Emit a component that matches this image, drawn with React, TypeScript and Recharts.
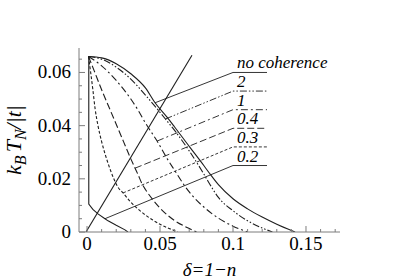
import { LineChart, Line, XAxis, YAxis, ReferenceDot } from "recharts";

// axis ranges and ticks
const X_DOMAIN: [number, number] = [-0.0055, 0.1733];
const Y_DOMAIN: [number, number] = [0, 0.0692];
const X_TICKS = [0, 0.01, 0.02, 0.03, 0.04, 0.05, 0.06, 0.07, 0.08, 0.09, 0.1, 0.11, 0.12, 0.13, 0.14, 0.15, 0.16, 0.17];
const X_MAJOR = [0, 0.05, 0.1, 0.15];
const Y_TICKS = [0, 0.005, 0.01, 0.015, 0.02, 0.025, 0.03, 0.035, 0.04, 0.045, 0.05, 0.055, 0.06, 0.065];
const Y_MAJOR = [0, 0.02, 0.04, 0.06];

// curves: [delta, kB*TN/|t|]
const NO_COHERENCE = [
  [0.001, 0.066], [0.01, 0.0655], [0.02, 0.0633], [0.03, 0.0595], [0.04, 0.0542],
  [0.0466, 0.0486], [0.0548, 0.0432], [0.06, 0.0395], [0.07, 0.0322], [0.08, 0.025],
  [0.084, 0.022], [0.09, 0.0178], [0.1, 0.0125], [0.11, 0.0087], [0.12, 0.0056],
  [0.13, 0.0029], [0.1425, 0],
];
const COH_2 = [
  [0.001, 0.066], [0.01, 0.065], [0.02, 0.062], [0.03, 0.0575], [0.04, 0.0515],
  [0.0537, 0.0425], [0.06, 0.0382], [0.07, 0.0305], [0.08, 0.0218], [0.083, 0.019],
  [0.09, 0.013], [0.1, 0.008], [0.11, 0.0042], [0.12, 0.0015], [0.127, 0],
];
const COH_1 = [
  [0.001, 0.066], [0.01, 0.0625], [0.02, 0.057], [0.03, 0.05], [0.035, 0.0458],
  [0.04, 0.041], [0.048, 0.0342], [0.055, 0.0275], [0.06, 0.0232], [0.068, 0.0165],
  [0.075, 0.012], [0.08, 0.0094], [0.09, 0.0052], [0.1, 0.0022], [0.11, 0],
];
const COH_04 = [
  [0.001, 0.066], [0.005, 0.0605], [0.01, 0.0535], [0.015, 0.047], [0.02, 0.0405],
  [0.025, 0.034], [0.03, 0.0275], [0.0329, 0.024], [0.035, 0.0215], [0.038, 0.0178],
  [0.04, 0.016], [0.045, 0.0122], [0.05, 0.009], [0.055, 0.0064], [0.06, 0.0043],
  [0.067, 0.0021], [0.072, 0.0008], [0.075, 0],
];
const COH_03 = [
  [0.001, 0.066], [0.0025, 0.06], [0.004, 0.0535], [0.0055, 0.0465], [0.0075, 0.04],
  [0.01, 0.034], [0.014, 0.0265], [0.018, 0.0205], [0.021, 0.017], [0.0247, 0.0147],
  [0.03, 0.0112], [0.035, 0.0086], [0.04, 0.0064], [0.045, 0.0045], [0.05, 0.0029],
  [0.055, 0.0016], [0.06, 0.0005], [0.062, 0],
];
const COH_02 = [
  [0.0012, 0.066], [0.0012, 0.0105], [0.004, 0.0085], [0.0075, 0.0068], [0.0123, 0.005],
  [0.0144, 0.0042], [0.02, 0.0025], [0.026, 0.0008], [0.028, 0],
];
const STRAIGHT = [[-0.0007, 0], [0.0719, 0.0665]];

// label column: text, label height, where the leader touches its curve
const LABEL_X = [0.1, 0.1233];
const LABELS = ["no coherence", "2", "1", "0.4", "0.3", "0.2"];
const LABEL_Y = [0.06, 0.053, 0.046, 0.039, 0.032, 0.025];
const LEADER_FROM = [[0.0466, 0.0486], [0.0537, 0.0425], [0.048, 0.0342], [0.0329, 0.024], [0.0247, 0.0147], [0.0123, 0.005]];

const CURVES = [NO_COHERENCE, COH_2, COH_1, COH_04, COH_03, COH_02];
const DASHES = [undefined, "7 2 1.5 2 1.5 2", "7 3 2 3", "7 3", "3 2", undefined];

const AXIS = "#7d7d7d";
const INK = "#1e1e1e";
const FONT = "Liberation Serif";

const pts = (arr: number[][]) => arr.map(([x, y]) => ({ x, y }));

function XTick(props: any) {
  const { x, y, payload } = props;
  const major = X_MAJOR.includes(payload.value);
  return (
    <g>
      <line x1={x} x2={x} y1={y} y2={y - (major ? 6 : 3)} stroke={AXIS} />
      {major && (
        <text x={x} y={y + 18} textAnchor="middle" fill="#000" fontFamily={FONT} fontSize={19}>
          {payload.value}
        </text>
      )}
    </g>
  );
}

function TopTick(props: any) {
  const { x, y, payload } = props;
  const major = X_MAJOR.includes(payload.value);
  return <line x1={x} x2={x} y1={y} y2={y + (major ? 6 : 3)} stroke={AXIS} />;
}

function YTick(props: any) {
  const { x, y, payload } = props;
  const major = Y_MAJOR.includes(payload.value);
  return (
    <g>
      <line x1={x} x2={x + (major ? 6 : 3)} y1={y} y2={y} stroke={AXIS} />
      {major && (
        <text x={x - 8} y={y + 6} textAnchor="end" fill="#000" fontFamily={FONT} fontSize={19}>
          {payload.value}
        </text>
      )}
    </g>
  );
}

function RightTick(props: any) {
  const { x, y, payload } = props;
  const major = Y_MAJOR.includes(payload.value);
  return <line x1={x} x2={x - (major ? 6 : 3)} y1={y} y2={y} stroke={AXIS} />;
}

export default function App() {
  return (
    <div style={{ position: "absolute", left: 0, top: 0, width: 409, height: 280, background: "#fff", fontFamily: FONT }}>
      <LineChart width={409} height={280} margin={{ top: 48, right: 69, bottom: 0, left: 0 }}>
        <XAxis
          type="number" dataKey="x" domain={X_DOMAIN} ticks={X_TICKS} interval={0} allowDataOverflow
          height={48} tickSize={0} tickMargin={0} tickLine={false} tick={<XTick />}
          axisLine={{ stroke: AXIS }}
          label={{
            content: (p: any) => {
              const vb = p.viewBox || { x: 79, y: 232, width: 261, height: 48 };
              return (
                <text x={vb.x + vb.width / 2} y={vb.y + vb.height - 4} textAnchor="middle"
                  fill="#000" fontFamily={FONT} fontSize={19} fontStyle="italic">
                  δ=1−n
                </text>
              );
            },
          }}
        />
        <XAxis
          xAxisId="top" orientation="top" type="number" dataKey="x" domain={X_DOMAIN} ticks={X_TICKS}
          interval={0} allowDataOverflow height={0} tickSize={0} tickMargin={0} tickLine={false}
          tick={<TopTick />} axisLine={{ stroke: AXIS }}
        />
        <YAxis
          type="number" dataKey="y" domain={Y_DOMAIN} ticks={Y_TICKS} interval={0} allowDataOverflow
          width={79} tickSize={0} tickMargin={0} tickLine={false} tick={<YTick />}
          axisLine={{ stroke: AXIS }}
          label={{
            content: () => (
              <text transform="translate(21,140) rotate(-90)" textAnchor="middle"
                fill="#000" fontFamily={FONT} fontSize={22} fontStyle="italic">
                k<tspan fontSize={16} dy={5}>B</tspan>
                <tspan dy={-5} dx={3}>T</tspan>
                <tspan fontSize={16} dy={5}>N</tspan>
                <tspan dy={-5}>/|t|</tspan>
              </text>
            ),
          }}
        />
        <YAxis
          yAxisId="right" orientation="right" type="number" dataKey="y" domain={Y_DOMAIN} ticks={Y_TICKS}
          interval={0} allowDataOverflow width={0} tickSize={0} tickMargin={0} tickLine={false}
          tick={<RightTick />} axisLine={{ stroke: AXIS }}
        />

        {CURVES.map((c, i) => (
          <Line key={"c" + i} data={pts(c)} dataKey="y" type={i === 5 ? "linear" : "monotone"}
            stroke={INK} strokeWidth={1.1} strokeDasharray={DASHES[i]} dot={false}
            isAnimationActive={false} />
        ))}

        {LABELS.map((lab, i) => (
          <Line key={"l" + i}
            data={pts([LEADER_FROM[i], [LABEL_X[0], LABEL_Y[i]], [LABEL_X[1], LABEL_Y[i]]])}
            dataKey="y" type="linear" stroke={INK} strokeWidth={0.9} strokeDasharray={DASHES[i]}
            dot={false} isAnimationActive={false} />
        ))}

        <Line data={pts(STRAIGHT)} xAxisId="top" yAxisId="right" dataKey="y" type="linear"
          stroke={INK} strokeWidth={1.1} dot={false} isAnimationActive={false} />

        {LABELS.map((lab, i) => (
          <ReferenceDot key={"t" + i} x={LABEL_X[0]} y={LABEL_Y[i]} r={1} fill="none" stroke="none"
            label={{
              content: (p: any) => {
                const vb = p.viewBox || { x: 0, y: 0 };
                return (
                  <text x={vb.x + 5} y={vb.y - 3} fill="#000" fontFamily={FONT} fontSize={17}
                    fontStyle="italic">
                    {lab}
                  </text>
                );
              },
            }}
          />
        ))}
      </LineChart>
    </div>
  );
}
